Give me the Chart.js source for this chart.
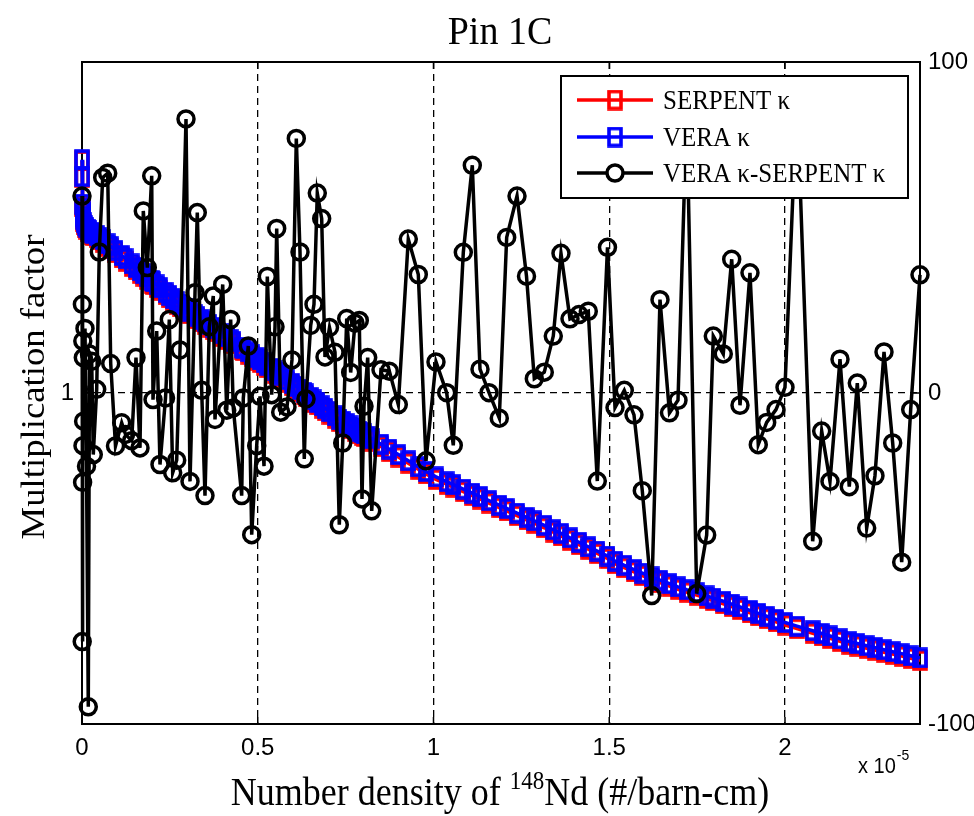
<!DOCTYPE html>
<html>
<head>
<meta charset="utf-8">
<title>Pin 1C</title>
<script src="https://cdn.jsdelivr.net/npm/chart.js@4.4.1/dist/chart.umd.min.js"></script>
<style>
  html, body { margin: 0; padding: 0; background: #fff; }
  canvas { display: block; }
</style>
</head>
<body>
<canvas id="chart" width="974" height="816"></canvas>
<script>
// number density of Nd-148, in units of 1e-5 #/barn-cm
var nd148 = [
  0, 0.0006, 0.0011, 0.0017, 0.0023, 0.0028, 0.0037, 0.0046, 0.0085, 0.0128,
  0.0179, 0.0213, 0.0276, 0.0321, 0.0418, 0.0492, 0.0589, 0.0731, 0.0817, 0.0953,
  0.1129, 0.1238, 0.1414, 0.1536, 0.1650, 0.1744, 0.1858, 0.1983, 0.2020, 0.2125,
  0.2219, 0.2376, 0.2484, 0.2580, 0.2694, 0.2788, 0.2959, 0.3073, 0.3215, 0.3280,
  0.3405, 0.3499, 0.3622, 0.3735, 0.3784, 0.4003, 0.4117, 0.4230, 0.4304, 0.4543,
  0.4589, 0.4731, 0.4828, 0.4970, 0.5064, 0.5178, 0.5272, 0.5397, 0.5491, 0.5539,
  0.5653, 0.5832, 0.5974, 0.6097, 0.6202, 0.6324, 0.6373, 0.6506, 0.6600, 0.6694,
  0.6819, 0.6913, 0.7041, 0.7198, 0.7320, 0.7417, 0.7531, 0.7644, 0.7767, 0.7889,
  0.7966, 0.8023, 0.8128, 0.8242, 0.8506, 0.8743, 0.8999, 0.9283, 0.9568, 0.9787,
  1.0071, 1.0375, 1.0563, 1.0848, 1.1104, 1.1323, 1.1579, 1.1872, 1.2082, 1.2376,
  1.2646, 1.2868, 1.3152, 1.3408, 1.3627, 1.3883, 1.4139, 1.4404, 1.4660, 1.4950,
  1.5164, 1.5428, 1.5704, 1.5940, 1.6208, 1.6444, 1.6714, 1.6956, 1.7203, 1.7488,
  1.7772, 1.7960, 1.8244, 1.8484, 1.8720, 1.9004, 1.9240, 1.9479, 1.9744, 2.0000,
  2.0341, 2.0788, 2.1044, 2.1280, 2.1565, 2.1829, 2.2057, 2.2324, 2.2560, 2.2817,
  2.3064, 2.3320, 2.3576, 2.3841
];

var serpentK = [
  1.2810, 1.2604, 1.2251, 1.2203, 1.2155, 1.2106, 1.2070, 1.2034, 1.1997, 1.1973,
  1.1949, 1.1937, 1.1913, 1.1900, 1.1876, 1.1852, 1.1824, 1.1773, 1.1743, 1.1695,
  1.1632, 1.1593, 1.1530, 1.1487, 1.1447, 1.1413, 1.1373, 1.1328, 1.1315, 1.1277,
  1.1243, 1.1188, 1.1150, 1.1115, 1.1075, 1.1041, 1.0990, 1.0958, 1.0915, 1.0896,
  1.0860, 1.0832, 1.0795, 1.0763, 1.0748, 1.0684, 1.0650, 1.0616, 1.0595, 1.0524,
  1.0511, 1.0469, 1.0441, 1.0398, 1.0369, 1.0334, 1.0305, 1.0267, 1.0237, 1.0222,
  1.0187, 1.0131, 1.0087, 1.0049, 1.0015, 0.9976, 0.9960, 0.9917, 0.9886, 0.9856,
  0.9816, 0.9786, 0.9745, 0.9695, 0.9655, 0.9630, 0.9601, 0.9572, 0.9540, 0.9509,
  0.9490, 0.9475, 0.9448, 0.9419, 0.9352, 0.9291, 0.9226, 0.9152, 0.9079, 0.9022,
  0.8956, 0.8898, 0.8863, 0.8808, 0.8760, 0.8719, 0.8670, 0.8614, 0.8575, 0.8519,
  0.8467, 0.8426, 0.8371, 0.8318, 0.8273, 0.8220, 0.8167, 0.8112, 0.8060, 0.8000,
  0.7938, 0.7888, 0.7837, 0.7794, 0.7747, 0.7708, 0.7666, 0.7628, 0.7593, 0.7557,
  0.7518, 0.7491, 0.7453, 0.7419, 0.7384, 0.7342, 0.7307, 0.7272, 0.7234, 0.7196,
  0.7152, 0.7097, 0.7064, 0.7034, 0.6999, 0.6965, 0.6942, 0.6916, 0.6893, 0.6868,
  0.6844, 0.6820, 0.6794, 0.6769
];

var veraK = [
  1.2820, 1.2614, 1.2281, 1.2233, 1.2185, 1.2136, 1.2100, 1.2064, 1.2027, 1.2003,
  1.1979, 1.1967, 1.1943, 1.1930, 1.1906, 1.1882, 1.1854, 1.1803, 1.1773, 1.1725,
  1.1662, 1.1623, 1.1560, 1.1517, 1.1477, 1.1443, 1.1403, 1.1358, 1.1345, 1.1307,
  1.1273, 1.1218, 1.1180, 1.1145, 1.1105, 1.1071, 1.1020, 1.0988, 1.0945, 1.0926,
  1.0890, 1.0862, 1.0825, 1.0793, 1.0778, 1.0714, 1.0680, 1.0646, 1.0625, 1.0554,
  1.0541, 1.0499, 1.0471, 1.0428, 1.0399, 1.0364, 1.0335, 1.0297, 1.0267, 1.0252,
  1.0217, 1.0161, 1.0117, 1.0079, 1.0045, 1.0006, 0.9990, 0.9947, 0.9916, 0.9886,
  0.9846, 0.9816, 0.9775, 0.9725, 0.9685, 0.9660, 0.9631, 0.9602, 0.9570, 0.9539,
  0.9520, 0.9505, 0.9478, 0.9449, 0.9382, 0.9321, 0.9256, 0.9182, 0.9109, 0.9052,
  0.8986, 0.8928, 0.8893, 0.8838, 0.8790, 0.8749, 0.8700, 0.8644, 0.8605, 0.8549,
  0.8497, 0.8456, 0.8401, 0.8348, 0.8303, 0.8250, 0.8197, 0.8142, 0.8090, 0.8030,
  0.7968, 0.7918, 0.7867, 0.7824, 0.7777, 0.7738, 0.7696, 0.7658, 0.7623, 0.7587,
  0.7548, 0.7521, 0.7483, 0.7449, 0.7414, 0.7372, 0.7337, 0.7302, 0.7264, 0.7226,
  0.7182, 0.7127, 0.7094, 0.7064, 0.7029, 0.6995, 0.6972, 0.6946, 0.6923, 0.6898,
  0.6874, 0.6850, 0.6824, 0.6799
];

// VERA k - SERPENT k (right axis)
var diffK = [
  59.5, -75.1, 26.8, -27.0, 15.7, -15.9, 10.7, -8.5, 19.5, -22.1,
  -94.8, 11.8, 9.6, -18.6, 1.1, 42.6, 65.1, 66.4, 8.9, -16.0,
  -9.0, -12.5, -14.4, 10.7, -16.6, 55.0, 37.9, 65.6, -2.0, 18.7,
  -21.6, -1.5, 22.2, -24.1, -20.3, 13.0, 82.8, -26.7, 30.3, 54.5,
  0.8, -31.0, 20.0, 29.3, -8.0, 32.8, -5.2, 22.2, -4.5, -31.0,
  -1.5, 14.2, -42.8, -15.9, -1.0, -22.1, 35.2, -0.5, 20.0, 49.7,
  -5.8, -4.2, 10.0, 76.9, 42.6, -19.9, -1.8, 20.4, 26.8, 60.4,
  52.7, 10.9, 19.8, 12.3, -39.8, -15.1, 22.5, 6.2, 21.1, 21.9,
  -32.0, -4.0, 10.7, -35.6, 7.0, 6.6, -3.5, 46.5, 35.8, -20.5,
  9.4, 0.1, -15.8, 42.5, 68.8, 7.2, 0.1, -7.6, 47.0, 59.5,
  35.3, 4.3, 6.3, 17.2, 42.2, 22.4, 23.7, 24.7, -26.6, 44.0,
  -4.4, 0.8, -6.6, -29.5, -61.2, 28.2, -6.0, -2.2, 85.0, -60.6,
  -42.9, 17.2, 11.8, 40.4, -3.7, 36.3, -15.6, -8.9, -5.0, 1.7,
  90.0, -44.8, -11.5, -26.7, 10.2, -28.3, 3.0, -40.8, -25.0, 12.4,
  -15.1, -51.1, -5.0, 35.7
];

var seriesNames = ['SERPENT \u03ba', 'VERA \u03ba', 'VERA \u03ba-SERPENT \u03ba'];
var xTicks = [0, 0.5, 1, 1.5, 2];
var kTicks = [1];
var diffTicks = [-100, 0, 100];

var serif = '"Liberation Serif", "Times New Roman", serif';
var sans = '"Liberation Sans", Arial, sans-serif';

// hollow rectangular marker, a bit taller than wide like the original
function rectMarker(color) {
  var c = document.createElement('canvas');
  c.width = 16; c.height = 21;
  var g = c.getContext('2d');
  g.strokeStyle = color;
  g.lineWidth = 3.6;
  g.strokeRect(2, 2, 12, 17);
  return c;
}
var redRect = rectMarker('#ff0000');
var blueRect = rectMarker('#0000ff');

function pts(ys) {
  return nd148.map(function(x, i) { return { x: x, y: ys[i] }; });
}

// text drawn slightly stretched vertically, like the original figure
function drawText(ctx, str, x, y, font, align, sy) {
  ctx.save();
  ctx.translate(x, y);
  ctx.scale(1, sy || 1.1);
  ctx.font = font;
  ctx.textAlign = align || 'left';
  ctx.textBaseline = 'alphabetic';
  ctx.fillStyle = '#000';
  ctx.fillText(str, 0, 0);
  ctx.restore();
}

var decorations = {
  id: 'decorations',
  beforeDatasetsDraw: function(chart) {
    var ctx = chart.ctx, a = chart.chartArea;
    ctx.save();
    ctx.setLineDash([]);
    ctx.strokeStyle = '#000';
    ctx.lineWidth = 2;
    ctx.strokeRect(a.left, a.top, a.right - a.left, a.bottom - a.top);
    // inward tick marks
    ctx.lineWidth = 1.5;
    ctx.beginPath();
    xTicks.forEach(function(v) {
      var px = chart.scales.x.getPixelForValue(v);
      ctx.moveTo(px, a.bottom); ctx.lineTo(px, a.bottom - 7);
      ctx.moveTo(px, a.top); ctx.lineTo(px, a.top + 7);
    });
    kTicks.forEach(function(v) {
      var py = chart.scales.y.getPixelForValue(v);
      ctx.moveTo(a.left, py); ctx.lineTo(a.left + 7, py);
    });
    diffTicks.forEach(function(v) {
      var py = chart.scales.y2.getPixelForValue(v);
      ctx.moveTo(a.right, py); ctx.lineTo(a.right - 7, py);
    });
    ctx.stroke();
    ctx.restore();
  },
  afterDraw: function(chart) {
    var ctx = chart.ctx;
    // title
    drawText(ctx, 'Pin 1C', 500, 44, '38px ' + serif, 'center', 1.08);

    // y axis title
    ctx.save();
    ctx.translate(44, 387);
    ctx.rotate(-Math.PI / 2);
    ctx.scale(1.08, 1);
    ctx.font = '34px ' + serif;
    ctx.textAlign = 'center';
    ctx.fillStyle = '#000';
    ctx.fillText('Multiplication factor', 0, 0);
    ctx.restore();

    // x axis title with superscript
    var f1 = '36px ' + serif, f2 = '23px ' + serif;
    var p1 = 'Number density of ', p2 = '148', p3 = 'Nd (#/barn-cm)';
    ctx.save();
    ctx.font = f1; var w1 = ctx.measureText(p1).width, w3 = ctx.measureText(p3).width;
    ctx.font = f2; var w2 = ctx.measureText(p2).width;
    ctx.restore();
    var x0 = 500 - (w1 + w2 + w3) / 2, base = 805;
    drawText(ctx, p1, x0, base, f1);
    drawText(ctx, p2, x0 + w1, base - 16, f2);
    drawText(ctx, p3, x0 + w1 + w2, base, f1);

    // exponent note
    ctx.save();
    ctx.font = '20px ' + sans;
    var wx = ctx.measureText('x 10').width;
    ctx.restore();
    drawText(ctx, 'x 10', 858, 773, '20px ' + sans);
    drawText(ctx, '-5', 858 + wx + 1, 760, '14px ' + sans);

    // legend box inside the plot
    var L = { x1: 561, y1: 76, x2: 908, y2: 198 };
    ctx.save();
    ctx.setLineDash([]);
    ctx.fillStyle = '#fff';
    ctx.fillRect(L.x1, L.y1, L.x2 - L.x1, L.y2 - L.y1);
    ctx.strokeStyle = '#000';
    ctx.lineWidth = 2;
    ctx.strokeRect(L.x1, L.y1, L.x2 - L.x1, L.y2 - L.y1);
    var rows = [100, 137, 173];
    var cols = ['#ff0000', '#0000ff', '#000000'];
    chart.data.datasets.forEach(function(ds, i) {
      var y = rows[i];
      ctx.strokeStyle = cols[i];
      ctx.lineWidth = 3.5;
      ctx.beginPath();
      ctx.moveTo(577, y); ctx.lineTo(653, y);
      ctx.stroke();
      if (i === 2) {
        ctx.beginPath();
        ctx.arc(615, y, 8, 0, Math.PI * 2);
        ctx.fillStyle = '#fff';
        ctx.fill();
        ctx.stroke();
      } else {
        var m = i === 0 ? redRect : blueRect;
        ctx.drawImage(m, 615 - m.width / 2, y - m.height / 2);
      }
      drawText(ctx, ds.label, 663, y + 9, '25px ' + serif);
    });
    ctx.restore();
  }
};

var ctx = document.getElementById('chart');
var chart = new Chart(ctx, {
  type: 'line',
  data: {
    datasets: [{
      label: seriesNames[0],
      data: pts(serpentK),
      yAxisID: 'y',
      borderColor: '#ff0000',
      borderWidth: 3.5,
      pointStyle: redRect,
      pointRadius: 8,
      tension: 0,
      clip: false,
      order: 2
    }, {
      label: seriesNames[1],
      data: pts(veraK),
      yAxisID: 'y',
      borderColor: '#0000ff',
      borderWidth: 3.5,
      pointStyle: blueRect,
      pointRadius: 8,
      tension: 0,
      clip: false,
      order: 1
    }, {
      label: seriesNames[2],
      data: pts(diffK),
      yAxisID: 'y2',
      borderColor: '#000000',
      borderWidth: 3.5,
      pointStyle: 'circle',
      pointRadius: 8,
      pointBorderWidth: 3.5,
      pointBackgroundColor: 'rgba(0,0,0,0)',
      pointBorderColor: '#000000',
      tension: 0,
      clip: false,
      order: 0
    }]
  },
  options: {
    responsive: false,
    animation: false,
    devicePixelRatio: 1,
    layout: { padding: { top: 62, left: 0, right: 0, bottom: 0 } },
    plugins: {
      legend: { display: false },
      title: { display: false },
      tooltip: { enabled: false }
    },
    scales: {
      x: {
        type: 'linear',
        min: 0,
        max: nd148[nd148.length - 1],
        afterBuildTicks: function(s) { s.ticks = xTicks.map(function(v) { return { value: v }; }); },
        afterFit: function(s) { s.height = 92; },
        ticks: {
          color: '#000',
          font: { family: sans, size: 24 },
          padding: 10,
          maxRotation: 0,
          autoSkip: false,
          callback: function(v) { return String(v); }
        },
        grid: { color: '#000', lineWidth: 1.3, drawTicks: false },
        border: { display: false, dash: [7, 5] }
      },
      y: {
        type: 'linear',
        position: 'left',
        min: 0.6,
        max: 1.4,
        afterBuildTicks: function(s) { s.ticks = kTicks.map(function(v) { return { value: v }; }); },
        afterFit: function(s) { s.width = 82; },
        ticks: {
          color: '#000',
          font: { family: sans, size: 24 },
          padding: 8,
          callback: function(v) { return String(v); }
        },
        grid: { color: '#000', lineWidth: 1.3, drawTicks: false },
        border: { display: false, dash: [7, 5] }
      },
      y2: {
        type: 'linear',
        position: 'right',
        min: -100,
        max: 100,
        afterBuildTicks: function(s) { s.ticks = diffTicks.map(function(v) { return { value: v }; }); },
        afterFit: function(s) { s.width = 54; },
        ticks: {
          color: '#000',
          font: { family: sans, size: 24 },
          padding: 8,
          callback: function(v) { return String(v); }
        },
        grid: { display: false, drawTicks: false },
        border: { display: false }
      }
    }
  },
  plugins: [decorations]
});
</script>
</body>
</html>
